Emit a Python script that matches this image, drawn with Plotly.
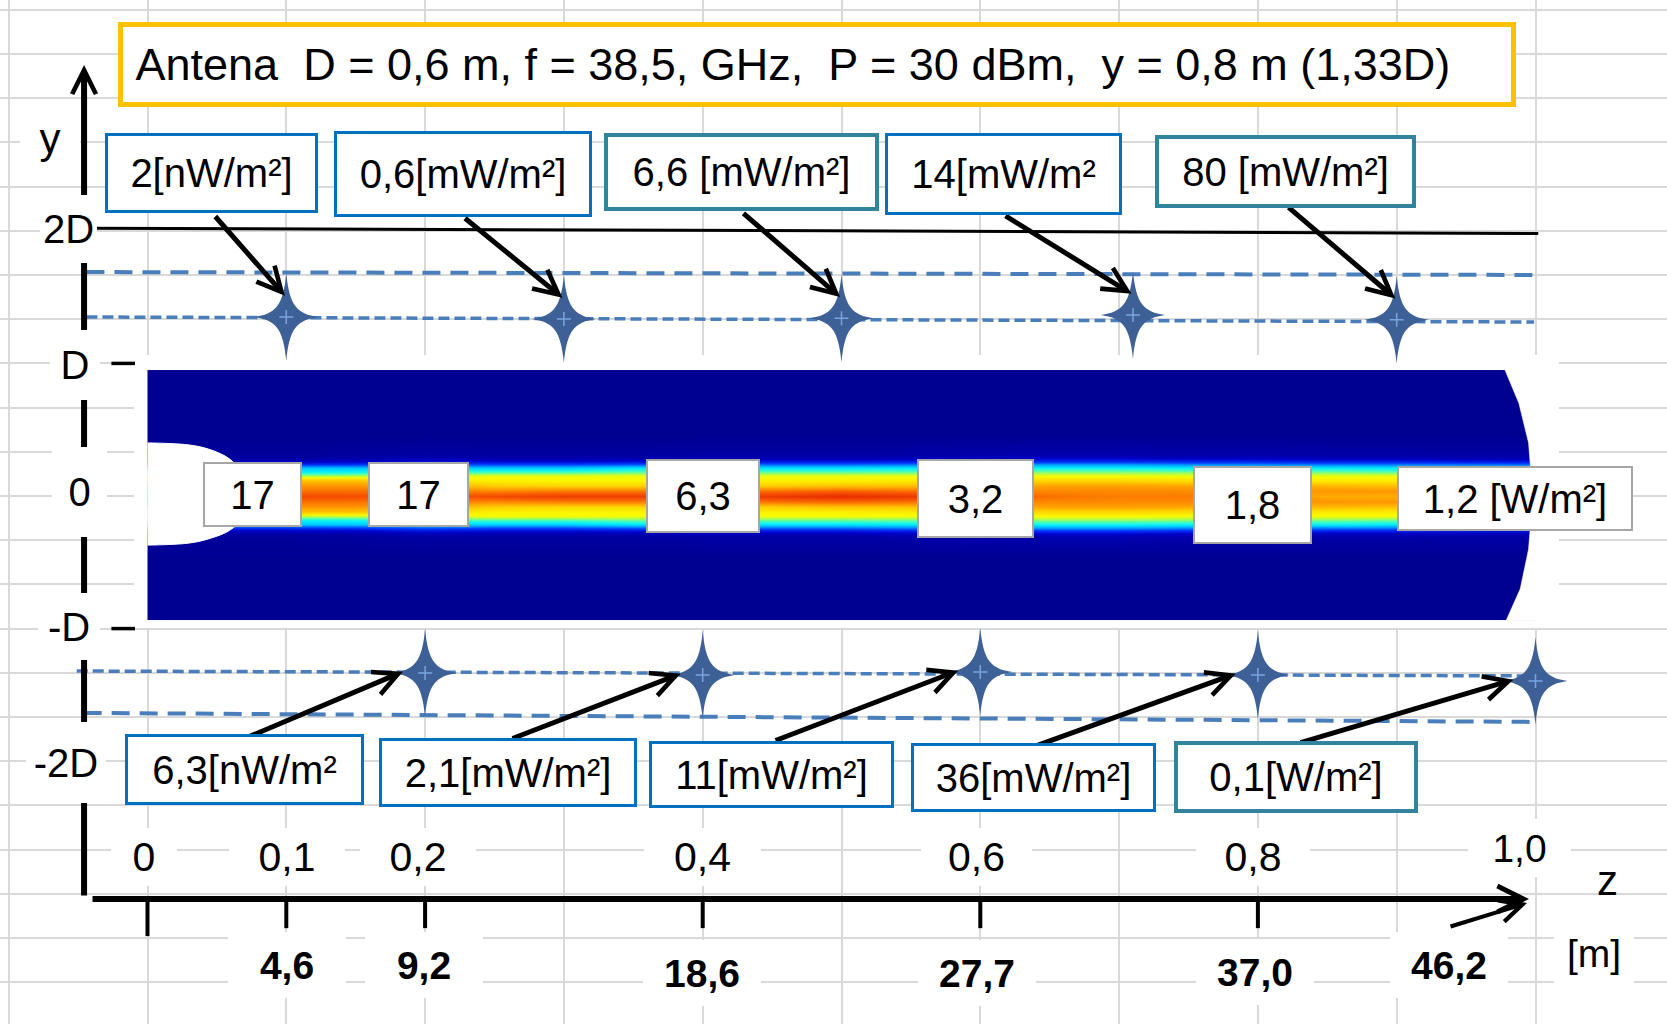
import plotly.graph_objects as go

# ------------------------------------------------------------------
# Values
# ------------------------------------------------------------------
title_text = ("Antena\u00a0\u00a0D = 0,6 m, f = 38,5, GHz,\u00a0\u00a0P = 30 dBm,"
              "\u00a0\u00a0y = 0,8 m (1,33D)")

z_ticks = [0.0, 0.1, 0.2, 0.4, 0.6, 0.8]
z_tick_labels = ["0", "0,1", "0,2", "0,4", "0,6", "0,8", "1,0"]
distance_labels = ["4,6", "9,2", "18,6", "27,7", "37,0", "46,2"]

y_marks = [2, 1, 0, -1, -2]
y_mark_labels = ["2D", "D", "0", "-D", "-2D"]

top_star_z = [0.10, 0.30, 0.50, 0.71, 0.90]
top_star_y = [1.35, 1.335, 1.34, 1.365, 1.33]
top_values = ["2[nW/m²]", "0,6[mW/m²]", "6,6 [mW/m²]", "14[mW/m²", "80 [mW/m²]"]

bottom_star_z = [0.20, 0.40, 0.60, 0.80, 1.00]
bottom_star_y = [-1.335, -1.35, -1.327, -1.35, -1.395]
bottom_values = ["6,3[nW/m²", "2,1[mW/m²]", "11[mW/m²]", "36[mW/m²]", "0,1[W/m²]"]

axis_values = ["17", "17", "6,3", "3,2", "1,8", "1,2 [W/m²]"]

# boundary lines (z, y in D units)
line_2d_z = [-0.041, 1.002]
line_2d_y = [2.02, 1.98]
top_outer_z = [-0.044, 0.999]
top_outer_y = [1.689, 1.667]
top_inner_z = [-0.044, 0.999]
top_inner_y = [1.350, 1.312]
bottom_inner_z = [-0.051, 1.000]
bottom_inner_y = [-1.320, -1.357]
bottom_outer_z = [-0.046, 1.002]
bottom_outer_y = [-1.636, -1.704]

# beam field (colour level 0..1) : rows = |y| levels, columns = z stations
field_z = [0.0, 0.05, 0.10, 0.15, 0.20, 0.25, 0.30, 0.35, 0.40, 0.45, 0.50,
           0.55, 0.60, 0.65, 0.70, 0.75, 0.80, 0.85, 0.90, 0.95, 1.0]
field_y_half = [0.0, 0.04, 0.08, 0.12, 0.15, 0.18, 0.21, 0.24, 0.28, 0.34]
field_half = [
    [.90, .92, .93, .92, .90, .93, .95, .95, .95, .96, .98, .96, .92, .86, .84, .84, .82, .76, .76, .76, .76],
    [.86, .87, .86, .86, .84, .82, .84, .84, .85, .86, .88, .86, .84, .82, .82, .82, .80, .80, .80, .78, .78],
    [.80, .80, .80, .80, .76, .70, .68, .68, .70, .70, .72, .72, .74, .78, .78, .77, .76, .74, .72, .72, .72],
    [.72, .72, .72, .72, .66, .63, .62, .62, .63, .63, .63, .64, .66, .68, .68, .67, .65, .64, .64, .64, .64],
    [.58, .56, .55, .56, .58, .60, .60, .60, .60, .60, .60, .60, .61, .61, .61, .60, .60, .60, .60, .60, .60],
    [.45, .43, .42, .43, .46, .48, .48, .50, .50, .50, .50, .50, .52, .52, .52, .52, .52, .51, .50, .50, .50],
    [.36, .35, .35, .35, .38, .36, .36, .40, .40, .40, .40, .41, .42, .43, .43, .42, .42, .42, .41, .40, .40],
    [.18, .15, .15, .16, .20, .18, .18, .20, .22, .22, .22, .24, .26, .28, .28, .26, .25, .24, .24, .23, .22],
    [.04, .03, .03, .04, .06, .05, .05, .05, .06, .06, .06, .07, .08, .09, .09, .08, .08, .07, .07, .06, .06],
    [0.0] * 21,
]

# white near-field region and far-field cut of the simulation image
near_edge_z = [0.0, 0.0025, 0.030, 0.045, 0.059, 0.070, 0.074, 0.070, 0.059, 0.045, 0.030, 0.0025, 0.0]
near_edge_y = [0.40, 0.40, 0.385, 0.35, 0.28, 0.15, 0.0, -0.15, -0.26, -0.32, -0.355, -0.37, -0.37]
far_edge_z = [0.978, 0.988, 0.995, 0.998, 0.995, 0.989, 0.979]
far_edge_y = [0.95, 0.70, 0.40, 0.0, -0.40, -0.70, -0.935]

# ------------------------------------------------------------------
# Layout / positions (not data)
# ------------------------------------------------------------------
X_RANGE = [-0.10627, 1.09474]
Y_RANGE = [-3.9819, 3.7406]

FONT = "Arial, Liberation Sans, sans-serif"
BLUE = "#0070C0"
TEAL = "#31849B"
GREY = "#A6A6A6"
STAR = "#3D6096"
DASH = "#4A7EBB"

top_box_pos = [(0.0461, 2.436), (0.2273, 2.428), (0.4280, 2.443), (0.6167, 2.428), (0.8199, 2.447)]
top_box_size = [(213, 80), (258, 86), (275, 78), (237, 82), (261, 73)]
top_box_col = [BLUE, BLUE, TEAL, BLUE, TEAL]
top_arrow_tail = [(0.0479, 2.119), (0.2277, 2.104), (0.4283, 2.142), (0.6171, 2.119), (0.8210, 2.187)]

bottom_box_pos = [(0.0699, -2.063), (0.2597, -2.085), (0.4496, -2.100), (0.6383, -2.123), (0.8274, -2.119)]
bottom_box_size = [(239, 71), (258, 69), (245, 67), (245, 69), (244, 72)]
bottom_box_col = [BLUE, BLUE, BLUE, BLUE, TEAL]
bottom_arrow_tail = [(0.0710, -1.825), (0.2619, -1.833), (0.4514, -1.848), (0.6401, -1.885), (0.8297, -1.863)]

axis_box_pos = [(0.0756, 0.011), (0.1952, 0.011), (0.4002, 0.0), (0.5965, -0.019), (0.7961, -0.068), (0.9852, -0.019)]
axis_box_size = [(99, 65), (101, 65), (114, 74), (117, 79), (119, 78), (236, 65)]

y_label_pos = [(-0.0569, 2.014), (-0.0522, 0.988), (-0.049, 0.03), (-0.0566, -0.984), (-0.0587, -2.01)]
y_label_size = [(57, 68), (50, 70), (55, 90), (62, 67), (80, 81)]

z_label_x = [-0.0025, 0.1005, 0.195, 0.3995, 0.5976, 0.7965, 0.9888]
z_label_y = [-2.722, -2.722, -2.722, -2.722, -2.722, -2.722, -2.655]
z_label_w = [66, 116, 116, 117, 111, 114, 103]

dist_label_x = [0.1005, 0.1992, 0.3995, 0.5976, 0.7979, 0.938]
dist_label_y = [-3.537, -3.537, -3.597, -3.597, -3.59, -3.537]

AXIS_Z_Y = -3.039
AXIS_Y_Z = -0.0457

fig = go.Figure()

# ---- simulation image (heatmap) ----
rows = [r for r in reversed(field_half[1:])] + field_half
ys = [-v for v in reversed(field_y_half[1:])] + field_y_half
ys = [-0.90] + ys + [0.90]
rows = [[0.0] * len(field_z)] + rows + [[0.0] * len(field_z)]


def edges(c, lo, hi):
    return [lo] + [(a + b) / 2 for a, b in zip(c[:-1], c[1:])] + [hi]


colorscale = [
    [0.00, "rgb(0,0,145)"], [0.08, "rgb(0,0,200)"], [0.18, "rgb(0,60,255)"],
    [0.30, "rgb(0,170,255)"], [0.40, "rgb(0,235,255)"], [0.47, "rgb(60,255,200)"],
    [0.54, "rgb(170,255,80)"], [0.61, "rgb(250,250,0)"], [0.70, "rgb(255,205,0)"],
    [0.80, "rgb(255,150,0)"], [0.90, "rgb(248,90,0)"], [1.00, "rgb(230,35,0)"],
]

fig.add_trace(go.Heatmap(
    x=edges(field_z, 0.0, 1.0), y=edges(ys, -0.935, 0.95), z=rows,
    zmin=0, zmax=1, colorscale=colorscale, zsmooth="best",
    showscale=False, hoverinfo="skip"))

fig.add_trace(go.Scatter(x=near_edge_z, y=near_edge_y, mode="lines", fill="toself",
                         fillcolor="white", line=dict(color="white", width=1, shape="spline"),
                         hoverinfo="skip", showlegend=False))
fig.add_trace(go.Scatter(x=far_edge_z + [1.012, 1.012], y=far_edge_y + [-0.935, 0.95],
                         mode="lines", fill="toself", fillcolor="white",
                         line=dict(color="white", width=0.5),
                         hoverinfo="skip", showlegend=False))

# ---- boundary lines ----
fig.add_trace(go.Scatter(x=line_2d_z, y=line_2d_y, mode="lines",
                         line=dict(color="black", width=3), hoverinfo="skip", showlegend=False))
for lz, ly, dash, w in [(top_outer_z, top_outer_y, "18px,10px", 4),
                        (top_inner_z, top_inner_y, "11px,5px", 3.5),
                        (bottom_inner_z, bottom_inner_y, "11px,5px", 3.5),
                        (bottom_outer_z, bottom_outer_y, "18px,10px", 4)]:
    fig.add_trace(go.Scatter(x=lz, y=ly, mode="lines",
                             line=dict(color=DASH, width=w, dash=dash),
                             hoverinfo="skip", showlegend=False))

# ---- z-axis ticks ----
tx, ty = [], []
for i, zt in enumerate(z_ticks):
    tx += [zt, zt, None]
    ty += [AXIS_Z_Y, AXIS_Z_Y - (0.28 if i == 0 else 0.22), None]
fig.add_trace(go.Scatter(x=tx, y=ty, mode="lines", line=dict(color="black", width=4),
                         hoverinfo="skip", showlegend=False))
# small dashes at D and -D
dx, dy = [], []
for ym in [1, -1]:
    dx += [-0.026, -0.009, None]
    dy += [ym, ym, None]
fig.add_trace(go.Scatter(x=dx, y=dy, mode="lines", line=dict(color="black", width=3.5),
                         hoverinfo="skip", showlegend=False))

# ---- shapes: white frame behind image, stars ----
shapes = [dict(type="rect", xref="x", yref="y", x0=-0.0097, x1=1.0169, y0=-0.995, y1=1.063,
               fillcolor="white", line=dict(width=0), layer="between")]
STAR_PATH = ("M0,44 C3,11 11,3 32,0 C11,-3 3,-11 0,-44 "
             "C-3,-11 -11,-3 -32,0 C-11,3 -3,11 0,44 Z")
CROSS_PATH = "M-7,0 L7,0 M0,-7 L0,7"
for sz, sy in list(zip(top_star_z, top_star_y)) + list(zip(bottom_star_z, bottom_star_y)):
    shapes.append(dict(type="path", xref="x", yref="y", xsizemode="pixel", ysizemode="pixel",
                       xanchor=sz, yanchor=sy, path=STAR_PATH, fillcolor=STAR,
                       line=dict(width=0), layer="above"))
    shapes.append(dict(type="path", xref="x", yref="y", xsizemode="pixel", ysizemode="pixel",
                       xanchor=sz, yanchor=sy, path=CROSS_PATH,
                       line=dict(color="rgb(120,165,225)", width=1.5), layer="above"))

ann = []


def arrow(x, y, ax, ay, width, size):
    ann.append(dict(x=x, y=y, ax=ax, ay=ay, xref="x", yref="y", axref="x", ayref="y",
                    text="", showarrow=True, arrowhead=5, arrowsize=size, arrowwidth=width,
                    arrowcolor="black", standoff=0, startstandoff=0))


def box(text, x, y, w, h, size=40, border=None, bw=0, bold=False, align="center"):
    ann.append(dict(x=x, y=y, xref="x", yref="y", text=("<b>%s</b>" % text) if bold else text,
                    showarrow=False, xanchor="center", yanchor="middle", align=align,
                    width=w - 2 * bw, height=h - 2 * bw, bgcolor="white",
                    bordercolor=border if border else "rgba(0,0,0,0)", borderwidth=bw,
                    borderpad=0, font=dict(family=FONT, size=size, color="black")))


# axes arrows
arrow(AXIS_Y_Z, 3.25, AXIS_Y_Z, -3.024, 6, 0.78)
arrow(0.9953, AXIS_Z_Y, -0.0407, AXIS_Z_Y, 6, 0.85)
arrow(0.9939, -3.069, 0.9377, -3.250, 4, 1.1)

# arrows from boxes to stars
for (tz, tyy), sz, sy in zip(top_arrow_tail, top_star_z, top_star_y):
    arrow(sz - 0.001, sy + 0.16, tz, tyy, 5, 0.95)
for (tz, tyy), sz, sy in zip(bottom_arrow_tail, bottom_star_z, bottom_star_y):
    arrow(sz - 0.016, sy + 0.01, tz, tyy, 5, 0.95)

# title box
box("\u00a0" + title_text, 0.4823, 3.254, 1398, 85, size=45, border="#FFC000", bw=5, align="left")

# value boxes
for t, (x, y), (w, h), c in zip(top_values, top_box_pos, top_box_size, top_box_col):
    box(t, x, y, w, h, size=40, border=c, bw=3 if c == BLUE else 4)
for t, (x, y), (w, h), c in zip(bottom_values, bottom_box_pos, bottom_box_size, bottom_box_col):
    box(t, x, y, w, h, size=40, border=c, bw=3 if c == BLUE else 4)
for t, (x, y), (w, h) in zip(axis_values, axis_box_pos, axis_box_size):
    box(t, x, y, w, h, size=40, border=GREY, bw=2)

# y labels
box("y", -0.0702, 2.70, 60, 60, size=42)
for t, (x, y), (w, h) in zip(y_mark_labels, y_label_pos, y_label_size):
    box(t, x, y, w, h, size=40)

# z labels
for t, x, y, w in zip(z_tick_labels, z_label_x, z_label_y, z_label_w):
    box(t, x, y, w, 58, size=41 if t != "1,0" else 39)
for t, x, y in zip(distance_labels, dist_label_x, dist_label_y):
    box(t, x, y, 118, 66, size=39, bold=True)

ann.append(dict(x=1.0519, y=-2.896, xref="x", yref="y", text="z", showarrow=False,
                font=dict(family=FONT, size=42, color="black")))
box("[m]", 1.0425, -3.446, 80, 80, size=39)

axis_common = dict(showgrid=True, gridcolor="#D9D9D9", gridwidth=2, zeroline=False,
                   showticklabels=False, ticks="", showline=False, fixedrange=True)
fig.update_layout(
    width=1667, height=1024,
    margin=dict(l=0, r=0, t=0, b=0, pad=0),
    paper_bgcolor="white", plot_bgcolor="white",
    showlegend=False, hovermode=False,
    xaxis=dict(range=X_RANGE, dtick=0.1, tick0=0, **axis_common),
    yaxis=dict(range=Y_RANGE, dtick=1 / 3, tick0=0, **axis_common),
    shapes=shapes, annotations=ann,
)

fig.write_html("out.html", config={"displayModeBar": False, "staticPlot": True})
